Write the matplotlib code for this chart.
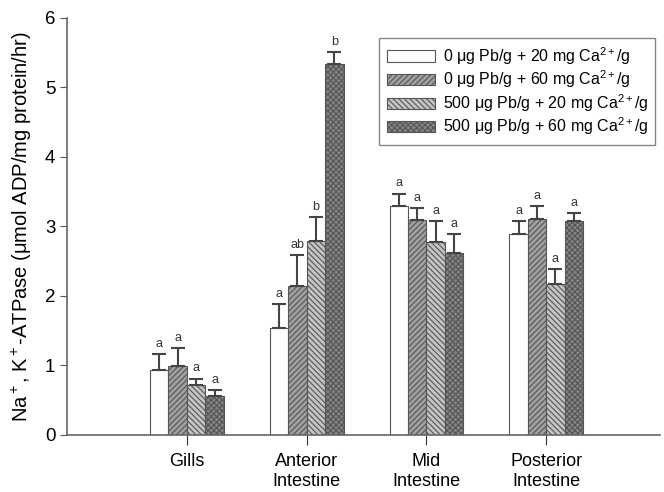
import numpy as np
import matplotlib.pyplot as plt

plt.rcParams['font.family'] = ['Liberation Sans', 'DejaVu Sans']
plt.rcParams['mathtext.fontset'] = 'custom'
plt.rcParams['mathtext.rm'] = 'Liberation Sans'
plt.rcParams['mathtext.it'] = 'Liberation Sans:italic'
plt.rcParams['mathtext.bf'] = 'Liberation Sans:bold'
plt.rcParams['hatch.linewidth'] = 0.8

tissues = ['Gills', 'Anterior\nIntestine', 'Mid\nIntestine', 'Posterior\nIntestine']
series = ['0 μg Pb/g + 20 mg Ca$^{2+}$/g',
          '0 μg Pb/g + 60 mg Ca$^{2+}$/g',
          '500 μg Pb/g + 20 mg Ca$^{2+}$/g',
          '500 μg Pb/g + 60 mg Ca$^{2+}$/g']

# mean values per series, one entry per tissue
ca20 = [0.94, 1.54, 3.29, 2.89]
ca60 = [0.99, 2.14, 3.09, 3.11]
pb_ca20 = [0.72, 2.79, 2.78, 2.17]
pb_ca60 = [0.56, 5.33, 2.62, 3.08]

# standard error (upper only)
ca20_err = [0.22, 0.34, 0.18, 0.19]
ca60_err = [0.26, 0.45, 0.17, 0.18]
pb_ca20_err = [0.09, 0.34, 0.29, 0.22]
pb_ca60_err = [0.09, 0.17, 0.27, 0.11]

# significance letters
ca20_lab = ['a', 'a', 'a', 'a']
ca60_lab = ['a', 'ab', 'a', 'a']
pb_ca20_lab = ['a', 'b', 'a', 'a']
pb_ca60_lab = ['a', 'b', 'a', 'a']

vals = [ca20, ca60, pb_ca20, pb_ca60]
errs = [ca20_err, ca60_err, pb_ca20_err, pb_ca60_err]
labs = [ca20_lab, ca60_lab, pb_ca20_lab, pb_ca60_lab]
colors = ['white', '#a0a0a0', '#c4c4c4', '#858585']
hatches = [None, '//////', '\\\\\\\\\\\\', 'xxxxxx']

fig = plt.figure(figsize=(6.64, 4.92), dpi=100)
ax = fig.add_axes([0.101, 0.116, 0.893, 0.848])

x = np.arange(1, len(tissues) + 1)
w = 0.154
for i in range(4):
    pos = x + (i - 1.5) * w
    ax.bar(pos, vals[i], w, color=colors[i], edgecolor='#555555', hatch=hatches[i],
           linewidth=0.8, label=series[i],
           yerr=[np.zeros(4), errs[i]], error_kw=dict(ecolor='#444444', elinewidth=1.5,
                                                      capsize=5, capthick=1.5))
    for j in range(4):
        ax.text(pos[j], vals[i][j] + errs[i][j] + 0.06, labs[i][j], ha='center',
                va='bottom', fontsize=9, color='#333333')

ax.set_xlim(0, 4.95)
ax.set_ylim(0, 6)
ax.set_yticks(range(7))
ax.set_xticks(x)
ax.set_xticklabels(tissues, fontsize=13, linespacing=1.2)
ax.tick_params(axis='y', labelsize=13.5, direction='out', length=5, color='#555555')
ax.tick_params(axis='x', direction='out', length=7, color='#333333', pad=6)
ax.spines['top'].set_visible(False)
ax.spines['right'].set_visible(False)
for s in ['left', 'bottom']:
    ax.spines[s].set_color('#666666')
    ax.spines[s].set_linewidth(1.2)
ax.set_ylabel('Na$^+$, K$^+$-ATPase (μmol ADP/mg protein/hr)', fontsize=14.5, labelpad=8)

leg = ax.legend(loc='upper right', bbox_to_anchor=(0.992, 0.952), borderaxespad=0,
                fontsize=11.5, frameon=True, fancybox=False, edgecolor='#666666',
                handlelength=3.0, handleheight=0.7, labelspacing=0.12, borderpad=0.45,
                handletextpad=0.5)
leg.get_frame().set_linewidth(1.0)

fig.savefig('out.png', dpi=100)
